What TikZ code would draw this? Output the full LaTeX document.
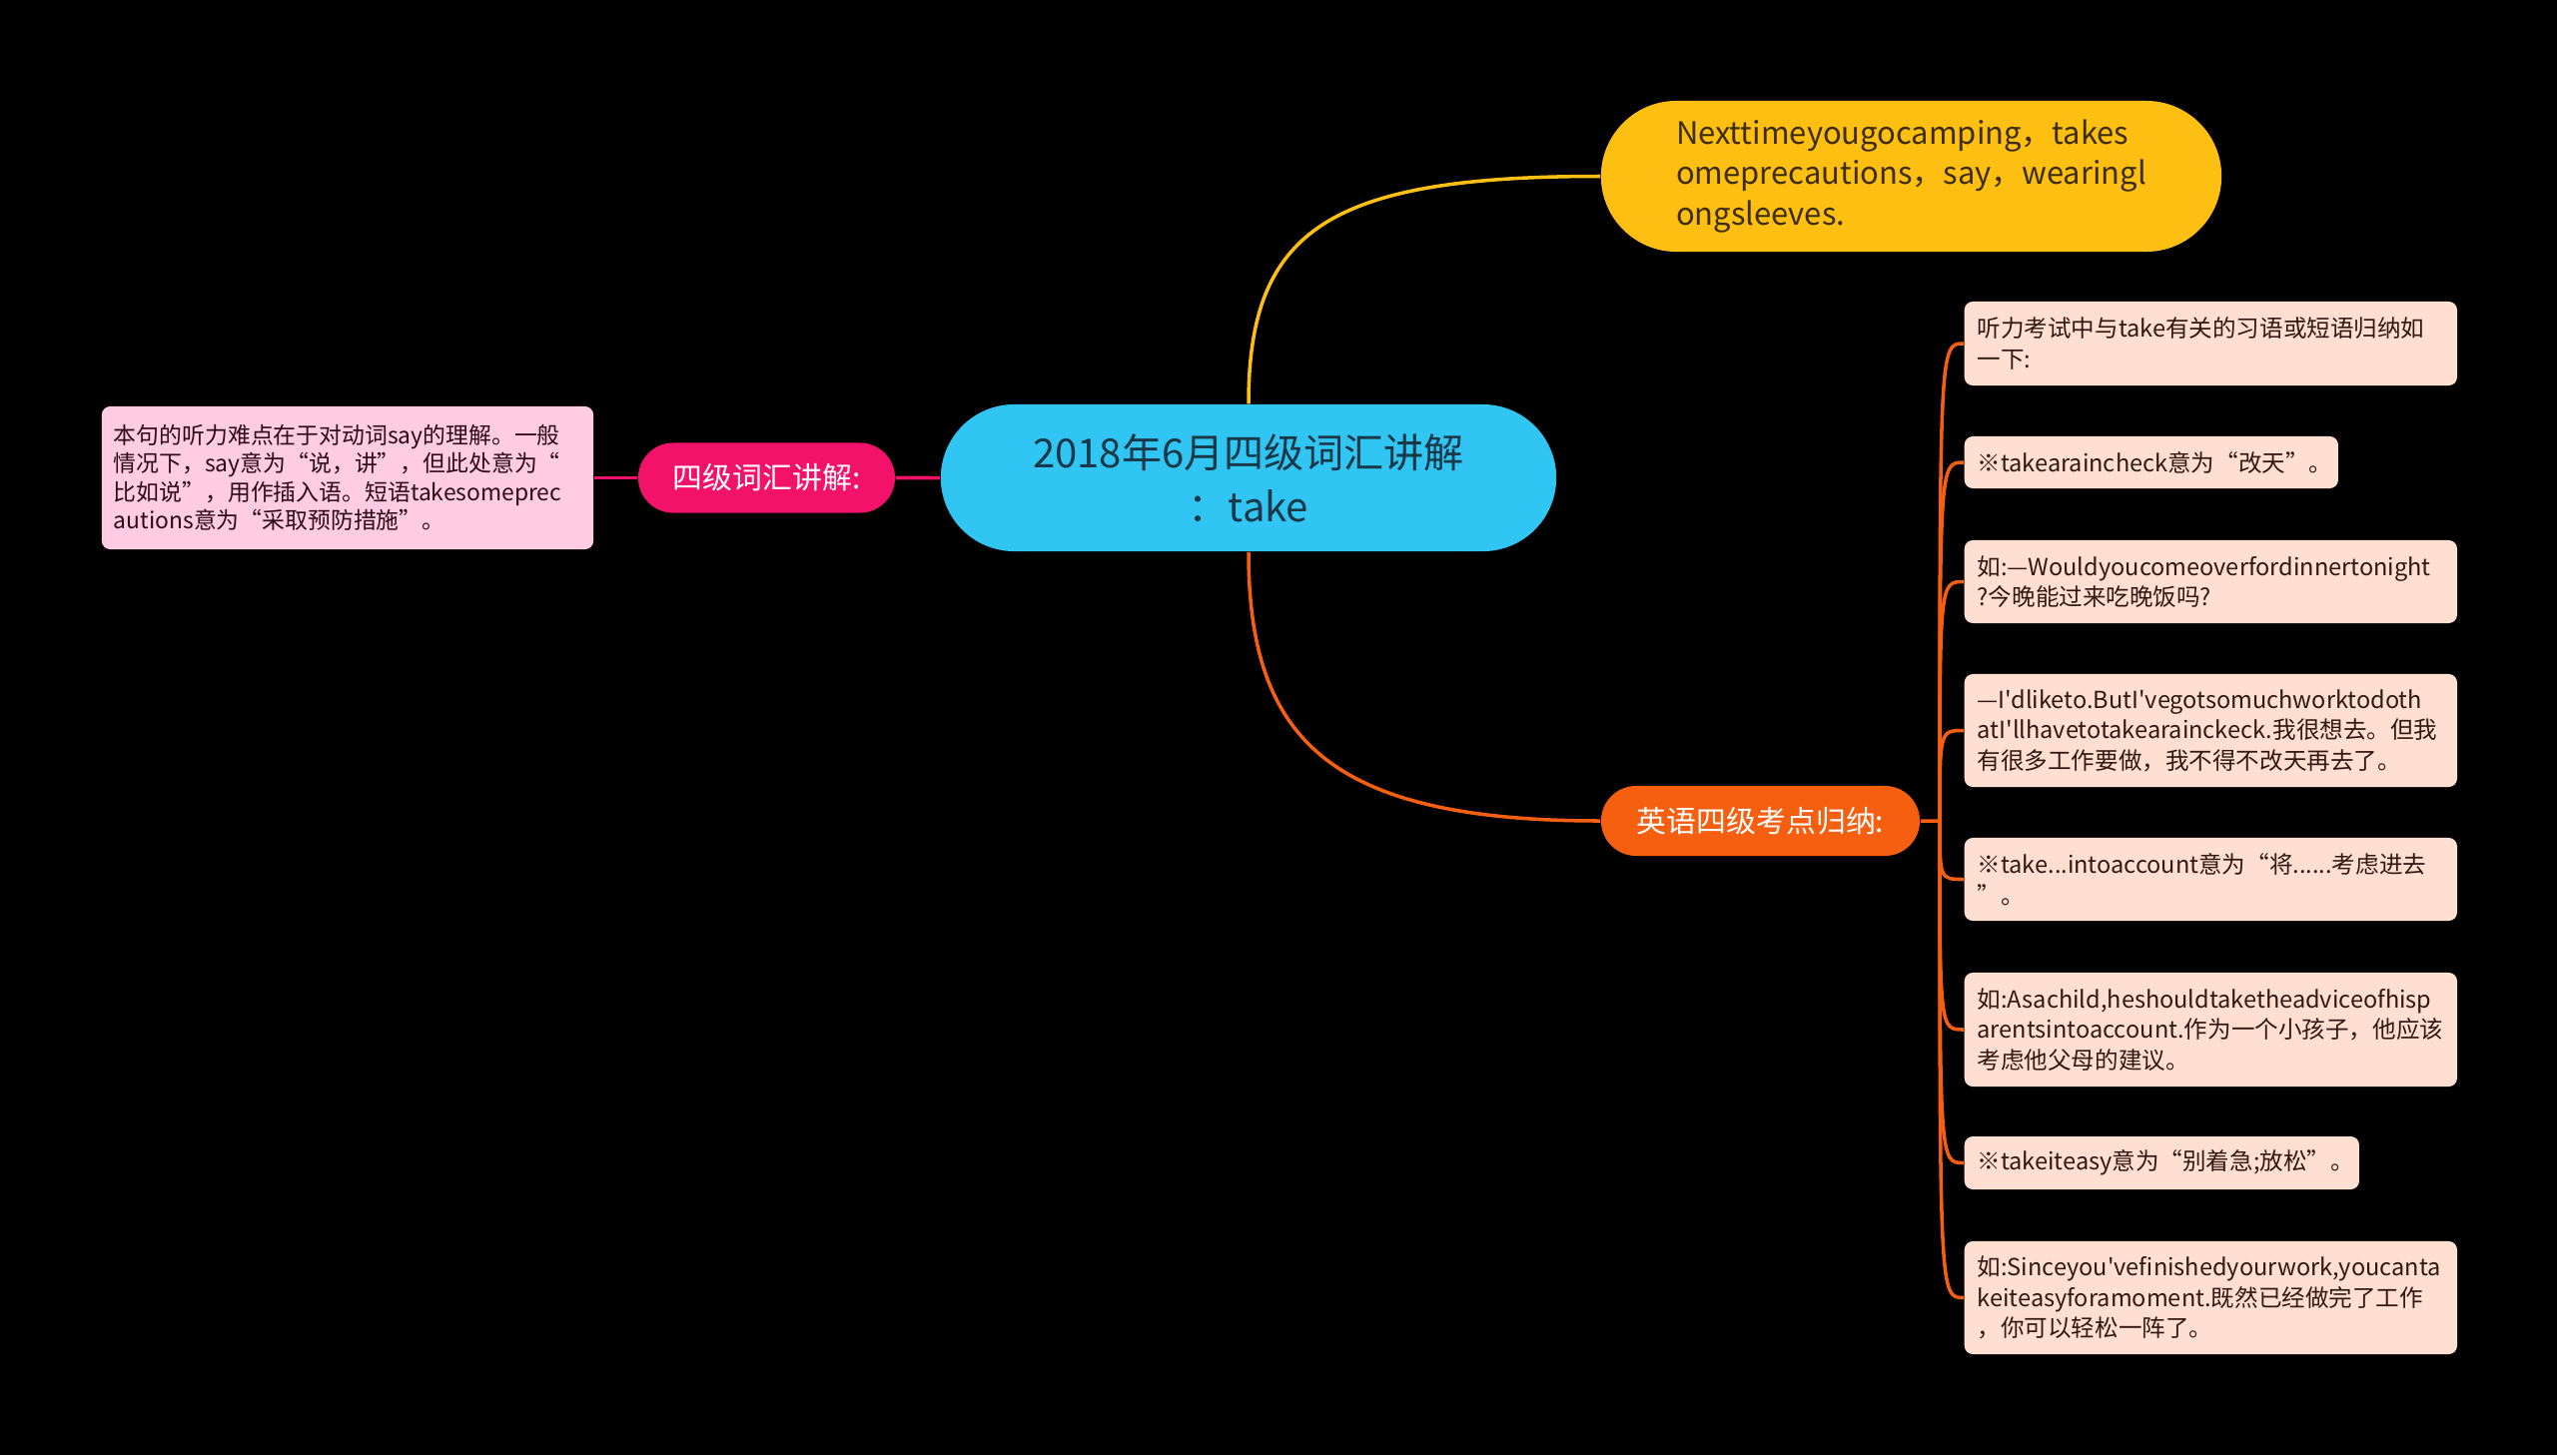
\documentclass[tikz,border=0pt]{standalone}
\usepackage{fontspec}
\newfontfamily\cjk{Noto Sans CJK SC}
\usetikzlibrary{shapes.misc}
\hyphenpenalty=10000
\definecolor{rootc}{HTML}{30C5F3}
\definecolor{roott}{HTML}{183847}
\definecolor{yelc}{HTML}{FDBF12}
\definecolor{yelt}{HTML}{3D2D05}
\definecolor{pinkc}{HTML}{F2126A}
\definecolor{orgc}{HTML}{F65E10}
\definecolor{notec}{HTML}{FFCCE1}
\definecolor{notet}{HTML}{2C0A1A}
\definecolor{leafc}{HTML}{FFDFD2}
\definecolor{leaft}{HTML}{30190F}
\tikzstyle{pill}=[rounded rectangle,inner sep=0pt]
\tikzstyle{root}=[pill,fill=rootc,text=roott,minimum width=6.16cm,minimum height=1.47cm,align=center,font=\cjk\fontsize{11.4}{15.4}\selectfont]
\tikzstyle{tip}=[pill,fill=yelc,text=yelt,minimum width=6.21cm,minimum height=1.51cm,align=left,font=\cjk\fontsize{8.8}{11.4}\selectfont]
\tikzstyle{branch}=[pill,text=white,minimum height=0.70cm,font=\cjk\fontsize{8.5}{10}\selectfont]
\tikzstyle{note}=[rectangle,rounded corners=2.4pt,fill=notec,text=notet,align=left,text width=4.68cm,inner xsep=0.12cm,inner ysep=0pt,minimum height=1.43cm,font=\cjk\fontsize{6.5}{8.1}\selectfont]
\tikzstyle{leaf}=[rectangle,rounded corners=2.4pt,fill=leafc,text=leaft,anchor=west,align=left,text width=4.67cm,inner xsep=0.13cm,inner ysep=0pt,font=\cjk\fontsize{6.7}{8.7}\selectfont]
\tikzstyle{ylink}=[draw=yelc,line width=1pt]
\tikzstyle{plink}=[draw=pinkc,line width=1pt]
\tikzstyle{olink}=[draw=orgc,line width=1pt]

\begin{document}
\begin{tikzpicture}[x=0.01cm,y=-0.01cm]
\fill[black] (0,0) rectangle (2560,1457);
\node[root] (R) at (1250,478.5) {2018年6月四级词汇讲解\\：take};
\node[tip] (T) at (1913.5,176.5) {Nexttimeyougocamping，takes\\omeprecautions，say，wearingl\\ongsleeves.};
\node[branch,fill=pinkc,minimum width=2.57cm] (V) at (767.5,478.5) {四级词汇讲解:};
\node[note] (N) at (348,478.5) {本句的听力难点在于对动词say的理解。一般\\情况下，say意为“说，讲”，但此处意为“\\比如说”，用作插入语。短语takesomeprec\\autions意为“采取预防措施”。};
\node[branch,fill=orgc,minimum width=3.19cm] (S) at (1762.5,822) {英语四级考点归纳:};
\coordinate (H) at (1942,822);
\node[leaf,minimum height=0.84cm] (L1) at (1966,344) {听力考试中与take有关的习语或短语归纳如\\一下:};
\node[leaf,minimum height=0.52cm,text width=3.48cm] (L2) at (1966,463) {※takearaincheck意为“改天”。};
\node[leaf,minimum height=0.83cm] (L3) at (1966,582.5) {如:—Wouldyoucomeoverfordinnertonight\\?今晚能过来吃晚饭吗?};
\node[leaf,minimum height=1.13cm] (L4) at (1966,731.5) {—I'dliketo.ButI'vegotsomuchworktodoth\\atI'llhavetotakearainckeck.我很想去。但我\\有很多工作要做，我不得不改天再去了。};
\node[leaf,minimum height=0.83cm] (L5) at (1966,880.5) {※take...intoaccount意为“将......考虑进去\\”。};
\node[leaf,minimum height=1.14cm] (L6) at (1966,1031) {如:Asachild,heshouldtaketheadviceofhisp\\arentsintoaccount.作为一个小孩子，他应该\\考虑他父母的建议。};
\node[leaf,minimum height=0.53cm,text width=3.69cm] (L7) at (1966,1164.5) {※takeiteasy意为“别着急;放松”。};
\node[leaf,minimum height=1.13cm] (L8) at (1966,1299.5) {如:Sinceyou'vefinishedyourwork,youcanta\\keiteasyforamoment.既然已经做完了工作\\，你可以轻松一阵了。};
\draw[ylink] (R.north) .. controls (1250,230) and (1330,176.5) .. (T.west);
\draw[olink] (R.south) .. controls (1250,740) and (1330,822) .. (S.west);
\draw[plink] (R)--(V);\draw[plink] (V)--(N);
\draw[olink] (S)--(H);
\foreach \n in {1,...,8} \draw[olink] (H) .. controls (H |- L\n.west) .. (L\n.west);
\end{tikzpicture}
\end{document}
